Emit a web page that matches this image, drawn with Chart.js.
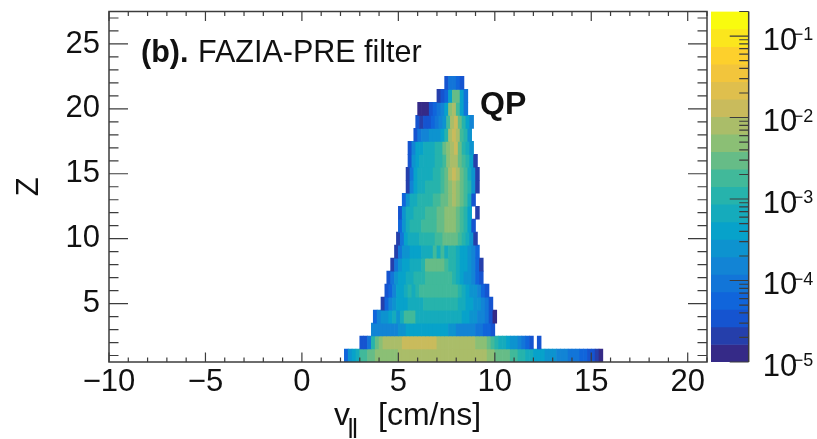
<!DOCTYPE html>
<html>
<head>
<meta charset="utf-8">
<style>
  html, body { margin: 0; padding: 0; background: #fff; }
  #wrap { position: relative; width: 817px; height: 439px; overflow: hidden; }
  #wrap div { position: absolute; top: 0; height: 439px; }
  #mainBox { left: 0; width: 708px; }
  #barBox { left: 708px; width: 109px; }
</style>
<script src="https://cdn.jsdelivr.net/npm/chart.js@4/dist/chart.umd.min.js"></script>
</head>
<body>
<div id="wrap">
  <div id="mainBox"><canvas id="mainChart"></canvas></div>
  <div id="barBox"><canvas id="colorBar"></canvas></div>
</div>
<script>
"use strict";

// log10(yield), one array per Z row, one entry per 0.2 cm/ns bin
const logYieldZ22 = [-4.5,-4,-4,-4.2,-4.5];
const logYieldZ21 = [-4.7,-4.5,-4.2,-3.4,-2.5,-2.5,-3.4,-4];
const logYieldZ20 = [-4.9,-4.9,-4.9,-4.5,-4.2,-4,-3.8,-3.4,-2.3,-2.1,-2.7,-3.4,-4];
const logYieldZ19 = [-4.5,-4.7,-4.5,-4.5,-4.2,-4,-3.8,-3.6,-2.7,-2.1,-1.9,-2.5,-3,-3.4,-3.8];
const logYieldZ18 = [-4.5,-4,-3.8,-3.8,-3.6,-3.6,-3.6,-3.4,-3,-2.1,-1.9,-2.1,-2.7,-3,-3.6];
const logYieldZ17 = [-4.5,-3.8,-3.4,-3.4,-3.2,-3.2,-3.2,-3,-3,-2.5,-2.3,-2.1,-1.9,-2.5,-3,-3.2,-3.6];
const logYieldZ16 = [-4.5,-3.6,-3.4,-3.2,-3.2,-3.2,-3.2,-3,-3,-2.7,-2.3,-2.1,-2.1,-2.5,-2.7,-3,-3.4,-4.7];
const logYieldZ15 = [-4.7,-4,-3.4,-3.2,-3.2,-3.2,-3.2,-3,-3,-2.7,-2.5,-2.1,-1.9,-2.1,-2.5,-2.7,-3.2,-3.6,-4.7];
const logYieldZ14 = [-4.7,-3.8,-3.4,-3.2,-3.2,-3,-3,-3,-3,-2.7,-2.5,-2.3,-2.1,-2.3,-2.5,-2.7,-3,-3.6,-4.7];
const logYieldZ13 = [-4.2,-3.6,-3.2,-3.2,-3,-3,-3,-3,-2.7,-2.7,-2.5,-2.5,-2.3,-2.1,-2.3,-2.5,-2.7,-3.2,-4.5];
const logYieldZ12 = [-4.5,-3.6,-3.2,-3.2,-3,-3,-3,-2.7,-2.7,-2.7,-2.5,-2.5,-2.3,-2.3,-2.3,-2.5,-2.7,-3,-3.4,null,-4.7];
const logYieldZ11 = [-4.2,-3.6,-3.2,-3,-3,-3,-2.7,-2.7,-2.7,-2.7,-2.5,-2.5,-2.3,-2.3,-2.3,-2.5,-2.7,-3,-3.4,-4.5];
const logYieldZ10 = [-4.7,-4,-3.4,-3.2,-3.2,-3.2,-3,-3,-3,-3,-2.7,-2.7,-2.5,-2.5,-2.5,-2.5,-2.7,-3,-3.2,-3.6,-4.7];
const logYieldZ09 = [-4.7,-4,-3.6,-3.6,-3.4,-3.4,-3.4,-3.2,-3.2,-3.2,-2.7,-3.2,-2.7,-3.2,-3,-3,-3.2,-3.4,-3.4,-3.6,-3.8,-4.2];
const logYieldZ08 = [-4.7,-4,-3.6,-3.4,-3.4,-3.2,-3.2,-3.2,-3,-2.5,-2.5,-2.5,-2.5,-2.5,-2.7,-3,-3,-3.2,-3.4,-3.4,-3.6,-3.8,-4.2,-4.7];
const logYieldZ07 = [-4.5,-4,-3.6,-3.4,-3.4,-3.2,-3.2,-3,-3,-3,-2.7,-2.7,-2.7,-2.7,-2.7,-2.7,-2.7,-3,-3.2,-3.4,-3.6,-3.6,-3.8,-4.2,-4.5];
const logYieldZ06 = [-4.5,-4.2,-3.8,-3.4,-3.4,-3.2,-3,-3.2,-3,-2.7,-2.7,-2.7,-2.7,-2.7,-2.7,-2.7,-2.7,-2.7,-2.7,-3,-3.2,-3.4,-3.6,-3.6,-3.8,-4.2,-4.5];
const logYieldZ05 = [-4.7,-4.2,-3.8,-3.6,-3.4,-3.4,-3.4,-3.2,-3.2,-3.2,-3.2,-3,-3,-3,-3,-3,-3,-3,-3,-3,-3.2,-3.2,-3.4,-3.4,-3.6,-3.6,-3.8,-4,-4.5];
const logYieldZ04 = [-4.2,-3.8,-3.6,-3.6,-3.4,-3.2,-3.6,-3.2,-2.7,-2.7,-2.7,-3.2,-3.2,-3.2,-3.2,-3.2,-3.2,-3.2,-3.2,-3.2,-3.2,-3.2,-3.2,-3.4,-3.4,-3.6,-3.6,-3.8,-3.8,-4,-4.5,-4.9];
const logYieldZ03 = [-3.8,-3.8,-3.8,-3.8,-3.8,-3.8,-3.8,-3.6,-3.6,-3.4,-3.4,-3.4,-3.4,-3.4,-3.4,-3.4,-3.4,-3.4,-3.4,-3.4,-3.6,-3.6,-3.8,-3.8,-3.8,-3.8,-3.8,-4,-4,-4.2,-4.2,-4.5];
const logYieldZ02 = [-4.5,-4.5,-4,-3,-2.5,-2.3,-2.1,-2.1,-2.1,-2.1,-2.1,-1.9,-1.9,-1.9,-1.9,-1.9,-1.9,-1.9,-1.9,-1.9,-2.1,-2.1,-2.1,-2.1,-2.1,-2.1,-2.1,-2.1,-2.1,-2.1,-2.3,-2.3,-2.3,-2.5,-2.7,-3,-3.2,-3.2,-3.4,-3.6,-3.6,-3.8,-4,-4.2,-4.5,null,-4.5];
const logYieldZ01 = [-4.2,-3.6,-3.4,-3.2,-2.7,-2.7,-2.5,-2.5,-2.3,-2.3,-2.3,-2.3,-2.3,-2.3,-2.1,-2.1,-2.1,-2.1,-2.1,-2.1,-2.1,-2.1,-2.1,-2.1,-2.1,-2.1,-2.1,-2.1,-2.1,-2.1,-2.1,-2.1,-2.1,-2.1,-2.1,-2.1,-2.1,-2.3,-2.3,-2.5,-2.5,-2.5,-2.5,-2.7,-2.7,-3,-3,-3.2,-3.2,-3.4,-3.4,-3.4,-3.6,-3.6,-3.6,-3.8,-3.8,-3.8,-4,-4,-4,-4.2,-4.2,-4.5,-4.5,-4.7,-4.9];

const zRows = [logYieldZ01, logYieldZ02, logYieldZ03, logYieldZ04, logYieldZ05, logYieldZ06, logYieldZ07, logYieldZ08, logYieldZ09, logYieldZ10, logYieldZ11,
               logYieldZ12, logYieldZ13, logYieldZ14, logYieldZ15, logYieldZ16, logYieldZ17, logYieldZ18, logYieldZ19, logYieldZ20, logYieldZ21, logYieldZ22];
// left edge of the first bin of each row, Z = 1 first
const rowStartV = [2.2, 3.0, 3.6, 3.7, 4.1, 4.3, 4.4, 4.6, 4.8, 4.9, 5.0, 5.0, 5.2, 5.4, 5.4, 5.5, 5.5, 5.8, 5.9, 6.0, 7.0, 7.4];
const binWidth = 0.2;

const xTickValues = [-10, -5, 0, 5, 10, 15, 20];
const zTickValues = [5, 10, 15, 20, 25];
const colorDecades = [-5, -4, -3, -2, -1];

const xRange = [-10, 21];
const zRange = [0.5, 27.5];
const colorRange = [1e-5, 0.2];
const bandCount = 20;

// ROOT kBird stops
const birdStops = [
    [0.2082, 0.1664, 0.5293], [0.0592, 0.3599, 0.8684], [0.0780, 0.5041, 0.8385],
    [0.0232, 0.6419, 0.7914], [0.1802, 0.7178, 0.6425], [0.5301, 0.7492, 0.4662],
    [0.8186, 0.7328, 0.3499], [0.9956, 0.7862, 0.1968], [0.9764, 0.9832, 0.0539]
];

function birdColor(t) {
    const pos = t * (birdStops.length - 1);
    const i = Math.min(Math.floor(pos), birdStops.length - 2);
    const f = pos - i;
    const rgb = birdStops[i].map((c, n) => Math.round(255 * (c + (birdStops[i + 1][n] - c) * f)));
    return `rgb(${rgb[0]},${rgb[1]},${rgb[2]})`;
}

const logMin = Math.log10(colorRange[0]);
const logStep = (Math.log10(colorRange[1]) - logMin) / bandCount;

function bandOf(logValue) {
    return Math.max(0, Math.min(bandCount - 1, Math.floor((logValue - logMin) / logStep)));
}

// one floating bar per filled bin
const cells = [];
zRows.forEach((row, r) => {
    row.forEach((logValue, b) => {
        if (logValue === null) return;
        const v0 = rowStartV[r] + b * binWidth;
        cells.push({ y: r + 1, x: [v0, v0 + binWidth], band: bandOf(logValue) });
    });
});

const bands = [];
for (let k = 0; k < bandCount; k++) {
    bands.push({ x: "", y: [Math.pow(10, logMin + k * logStep), Math.pow(10, logMin + (k + 1) * logStep)], color: birdColor(k / (bandCount - 1)) });
}

const INK = "#111";
const TICK = "#3c3c3c";
const SANS = "'Liberation Sans', Arial, sans-serif";

function formatMinus(v) {
    return v < 0 ? "\u2212" + Math.abs(v) : String(v);
}

/** frame, inward ticks on all four sides and the text inside and under the plot */
const framePlugin = {
    id: "framePlugin",
    afterDatasetsDraw(chart) {
        const { ctx, chartArea: a, scales } = chart;
        ctx.save();
        ctx.strokeStyle = TICK;
        ctx.lineWidth = 1.2;
        ctx.beginPath();
        for (let v = xRange[0]; v <= xRange[1]; v++) {
            const px = scales.x.getPixelForValue(v);
            const len = v % 5 === 0 ? 9.5 : 4.5;
            ctx.moveTo(px, a.bottom); ctx.lineTo(px, a.bottom - len);
            ctx.moveTo(px, a.top); ctx.lineTo(px, a.top + len);
        }
        for (let z = 1; z <= 27; z++) {
            const py = scales.y.getPixelForValue(z);
            const len = z % 5 === 0 ? 19 : 9.5;
            ctx.moveTo(a.left, py); ctx.lineTo(a.left + len, py);
            ctx.moveTo(a.right, py); ctx.lineTo(a.right - len, py);
        }
        ctx.stroke();
        ctx.lineWidth = 1.5;
        ctx.strokeRect(a.left, a.top, a.right - a.left, a.bottom - a.top);

        ctx.fillStyle = INK;
        ctx.textBaseline = "alphabetic";
        ctx.textAlign = "left";
        ctx.font = `bold 30.5px ${SANS}`;
        ctx.fillText("(b).", 141, 62);
        ctx.font = `30.5px ${SANS}`;
        ctx.fillText("FAZIA-PRE filter", 198, 62);
        ctx.font = `bold 32px ${SANS}`;
        ctx.fillText("QP", 480, 114);

        // axis title, the library's title has no subscript
        ctx.font = `32px ${SANS}`;
        ctx.fillText("v", 334, 425);
        ctx.fillText("[cm/ns]", 378, 425);
        ctx.font = `28px ${SANS}`;
        ctx.fillText("\u2016", 347, 438);
        ctx.restore();
    }
};

new Chart(document.getElementById("mainChart"), {
    type: "bar",
    data: {
        datasets: [{
            data: cells,
            backgroundColor: (c) => (c.raw ? birdColor(c.raw.band / (bandCount - 1)) : "transparent"),
            borderWidth: 0,
            grouped: false,
            barPercentage: 1,
            categoryPercentage: 1
        }]
    },
    options: {
        indexAxis: "y",
        responsive: true,
        maintainAspectRatio: false,
        animation: false,
        events: [],
        layout: { padding: { top: 11.5, right: 1, left: 0, bottom: 0 } },
        plugins: { legend: { display: false }, tooltip: { enabled: false } },
        scales: {
            x: {
                type: "linear",
                min: xRange[0],
                max: xRange[1],
                afterBuildTicks(s) { s.ticks = xTickValues.map((value) => ({ value })); },
                afterFit(s) { s.height = 77; s.paddingLeft = 0; s.paddingRight = 0; },
                grid: { display: false, drawTicks: false },
                border: { display: false },
                ticks: {
                    color: INK,
                    font: { family: SANS, size: 31 },
                    padding: 2,
                    maxRotation: 0,
                    autoSkip: false,
                    callback: (v) => formatMinus(v)
                }
            },
            y: {
                type: "linear",
                offset: false,
                min: zRange[0],
                max: zRange[1],
                afterBuildTicks(s) { s.ticks = zTickValues.map((value) => ({ value })); },
                afterFit(s) { s.width = 109; s.paddingTop = 0; s.paddingBottom = 0; },
                grid: { display: false, drawTicks: false, offset: false },
                border: { display: false },
                title: { display: true, text: "Z", color: INK, font: { family: SANS, size: 31 }, padding: { top: 11, bottom: 0 } },
                ticks: {
                    color: INK,
                    font: { family: SANS, size: 31 },
                    padding: 9,
                    autoSkip: false,
                    callback: (v) => String(v)
                }
            }
        }
    },
    plugins: [framePlugin]
});

/** colour bar ticks and the 10^n labels, exponent needs its own smaller font */
const colorAxisPlugin = {
    id: "colorAxisPlugin",
    afterDatasetsDraw(chart) {
        const { ctx, chartArea: a, scales } = chart;
        ctx.save();
        ctx.strokeStyle = TICK;
        ctx.lineWidth = 1.2;
        ctx.beginPath();
        for (let d = colorDecades[0]; d <= colorDecades[colorDecades.length - 1]; d++) {
            for (let m = 1; m <= 9; m++) {
                const value = m * Math.pow(10, d);
                if (value > colorRange[1] * 1.0001) continue;
                const py = scales.y.getPixelForValue(value);
                ctx.moveTo(a.right, py);
                ctx.lineTo(a.right - (m === 1 ? 19 : 9.5), py);
            }
        }
        ctx.stroke();
        ctx.lineWidth = 1.5;
        ctx.beginPath();
        ctx.moveTo(a.right, a.top);
        ctx.lineTo(a.right, a.bottom);
        ctx.stroke();

        ctx.fillStyle = INK;
        ctx.textAlign = "left";
        ctx.textBaseline = "alphabetic";
        colorDecades.forEach((d) => {
            const py = scales.y.getPixelForValue(Math.pow(10, d));
            ctx.font = `31px ${SANS}`;
            ctx.fillText("10", a.right + 14, py + 13.5);
            ctx.font = `18px ${SANS}`;
            ctx.fillText("\u2212" + Math.abs(d), a.right + 44, py + 4);
        });
        ctx.restore();
    }
};

new Chart(document.getElementById("colorBar"), {
    type: "bar",
    data: {
        labels: [""],
        datasets: [{
            data: bands,
            backgroundColor: bands.map((b) => b.color),
            borderWidth: 0,
            grouped: false,
            barPercentage: 1,
            categoryPercentage: 1
        }]
    },
    options: {
        responsive: true,
        maintainAspectRatio: false,
        animation: false,
        events: [],
        layout: { padding: { top: 11.5, left: 3, right: 0, bottom: 77 } },
        plugins: { legend: { display: false }, tooltip: { enabled: false } },
        scales: {
            x: { display: false },
            y: {
                type: "logarithmic",
                position: "right",
                min: colorRange[0],
                max: colorRange[1],
                afterFit(s) { s.width = 68.3; },
                grid: { display: false, drawTicks: false },
                border: { display: false },
                ticks: { display: false }
            }
        }
    },
    plugins: [colorAxisPlugin]
});
</script>
</body>
</html>
